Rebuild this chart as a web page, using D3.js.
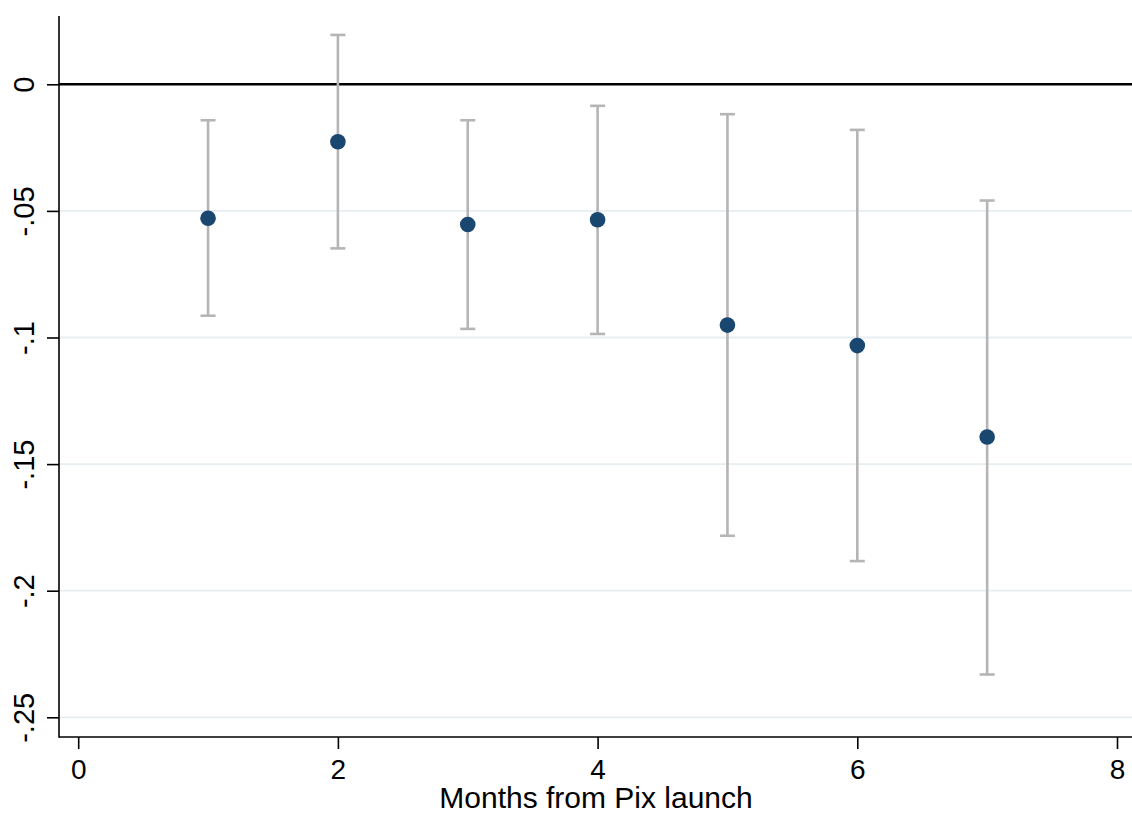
<!DOCTYPE html>
<html>
<head>
<meta charset="utf-8">
<script src="https://cdn.jsdelivr.net/npm/d3@7"></script>
<style>
  html, body { margin: 0; padding: 0; background: #fff; }
  svg { display: block; }
  text { font-family: "Liberation Sans", Arial, Helvetica, sans-serif; fill: #000; }
</style>
</head>
<body>
<svg id="chart" width="1132" height="814"></svg>
<script>
// Data
const months   = [1, 2, 3, 4, 5, 6, 7];
const estimate = [-0.0529, -0.0227, -0.0554, -0.0535, -0.0951, -0.1032, -0.1393];
const ciLow    = [-0.0914, -0.0648, -0.0966, -0.0986, -0.1783, -0.1883, -0.2331];
const ciHigh   = [-0.0142,  0.0195, -0.0142, -0.0085, -0.0118, -0.0180, -0.0459];
const xTicks   = [0, 2, 4, 6, 8];
const yTicks   = [0, -0.05, -0.1, -0.15, -0.2, -0.25];
const yTickLabels = ["0", "-.05", "-.1", "-.15", "-.2", "-.25"];
const xTitle   = "Months from Pix launch";

const svg = d3.select("#chart");
const plotLeft = 59, plotRight = 1132, plotTop = 16, plotBottom = 737;

const x = d3.scaleLinear().domain([0, 8]).range([78.2, 1117]);
const y = d3.scaleLinear().domain([0, -0.25]).range([84.3, 717.3]);

// gridlines
svg.append("g").selectAll("line")
  .data(yTicks.filter(d => d !== 0))
  .join("line")
  .attr("x1", plotLeft).attr("x2", plotRight)
  .attr("y1", d => y(d)).attr("y2", d => y(d))
  .attr("stroke", "#e6eef1").attr("stroke-width", 1.8);

// zero reference line
svg.append("line")
  .attr("x1", plotLeft).attr("x2", plotRight)
  .attr("y1", y(0)).attr("y2", y(0))
  .attr("stroke", "#000").attr("stroke-width", 2.4);

// error bars
const bars = svg.append("g");
const capHalf = 7.5;
months.forEach((m, i) => {
  const cx = x(m);
  bars.append("line")
    .attr("x1", cx).attr("x2", cx)
    .attr("y1", y(ciHigh[i])).attr("y2", y(ciLow[i]))
    .attr("stroke", "#b5b5b5").attr("stroke-width", 2.6);
  [ciHigh[i], ciLow[i]].forEach(v => {
    bars.append("line")
      .attr("x1", cx - capHalf).attr("x2", cx + capHalf)
      .attr("y1", y(v)).attr("y2", y(v))
      .attr("stroke", "#b5b5b5").attr("stroke-width", 2.6);
  });
});

// points
svg.append("g").selectAll("circle")
  .data(months)
  .join("circle")
  .attr("cx", d => x(d))
  .attr("cy", (d, i) => y(estimate[i]))
  .attr("r", 7.8)
  .attr("fill", "#1a476f");

// axes lines
svg.append("line")
  .attr("x1", plotLeft).attr("x2", plotLeft)
  .attr("y1", plotTop).attr("y2", plotBottom + 0.8)
  .attr("stroke", "#000").attr("stroke-width", 1.6);
svg.append("line")
  .attr("x1", plotLeft).attr("x2", plotRight)
  .attr("y1", plotBottom).attr("y2", plotBottom)
  .attr("stroke", "#000").attr("stroke-width", 1.6);

// x axis ticks
const xAxis = d3.axisBottom(x).tickValues(xTicks).tickSize(12).tickPadding(10)
  .tickFormat(d3.format("d"));
const gx = svg.append("g").attr("transform", `translate(0,${plotBottom})`).call(xAxis);
gx.select(".domain").remove();
gx.selectAll(".tick line").attr("stroke", "#000").attr("stroke-width", 1.6);
gx.selectAll(".tick text").attr("font-size", 28).attr("dy", "0.71em")
  .style("font-family", "'Liberation Sans', Arial, sans-serif");

// y axis ticks
const yAxis = d3.axisLeft(y).tickValues(yTicks).tickSize(12)
  .tickFormat((d, i) => yTickLabels[i]);
const gy = svg.append("g").attr("transform", `translate(${plotLeft},0)`).call(yAxis);
gy.select(".domain").remove();
gy.selectAll(".tick line").attr("stroke", "#000").attr("stroke-width", 1.6);
gy.selectAll(".tick text")
  .attr("x", null).attr("dy", null)
  .attr("text-anchor", "middle")
  .attr("font-size", 29)
  .attr("transform", `translate(${33.5 - plotLeft},0) rotate(-90)`)
  .style("font-family", "'Liberation Sans', Arial, sans-serif");

// x title
svg.append("text")
  .attr("x", 596).attr("y", 808)
  .attr("text-anchor", "middle")
  .attr("font-size", 30)
  .text(xTitle);
</script>
</body>
</html>
